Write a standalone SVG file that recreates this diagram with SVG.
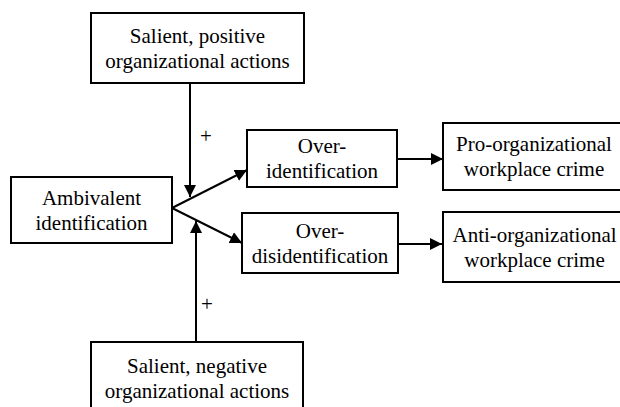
<svg xmlns="http://www.w3.org/2000/svg" width="620" height="407" viewBox="0 0 620 407" font-family="Liberation Serif" font-size="21">
<style>
.box{fill:#fff;stroke:#000;stroke-width:2}
.c{stroke:#000;stroke-width:2;fill:none}
.node{text-anchor:middle}
</style>
<defs>
<marker id="ah" markerUnits="userSpaceOnUse" markerWidth="12" markerHeight="12" refX="12" refY="6" orient="auto">
<path d="M0,0 L12,6 L0,12 z" fill="#000"/>
</marker>
</defs>
<rect width="620" height="407" fill="#fff"/>
<g id="connectors">
<path class="c" d="M190,83 L190,197" marker-end="url(#ah)"/>
<path class="c" d="M196,342 L196,221" marker-end="url(#ah)"/>
<path class="c" d="M172,208 L247,170" marker-end="url(#ah)"/>
<path class="c" d="M172,208 L242,243" marker-end="url(#ah)"/>
<path class="c" d="M397,159 L443,159" marker-end="url(#ah)"/>
<path class="c" d="M398,244 L442,244" marker-end="url(#ah)"/>
<g class="node">
<text x="206" y="143">+</text>
<text x="207" y="311">+</text>
</g>
</g>
<g id="positive" class="node">
<rect class="box" x="91" y="13" width="213" height="70"/>
<text x="197.5" y="43">Salient, positive</text>
<text x="197.5" y="68">organizational actions</text>
</g>
<g id="ambivalent" class="node">
<rect class="box" x="11" y="177" width="161" height="66"/>
<text x="91.5" y="205">Ambivalent</text>
<text x="91.5" y="230">identification</text>
</g>
<g id="overid" class="node">
<rect class="box" x="247" y="130" width="150" height="57"/>
<text x="322" y="153">Over-</text>
<text x="322" y="178">identification</text>
</g>
<g id="overdisid" class="node">
<rect class="box" x="242" y="213" width="156" height="60"/>
<text x="320" y="237.5">Over-</text>
<text x="320" y="262.5">disidentification</text>
</g>
<g id="pro" class="node">
<rect class="box" x="443" y="123" width="190" height="67"/>
<text x="534" y="151">Pro-organizational</text>
<text x="534" y="176">workplace crime</text>
</g>
<g id="anti" class="node">
<rect class="box" x="443" y="212" width="190" height="70"/>
<text x="534.5" y="241.5">Anti-organizational</text>
<text x="534.5" y="266.5">workplace crime</text>
</g>
<g id="negative" class="node">
<rect class="box" x="91" y="342" width="212" height="80"/>
<text x="197" y="373">Salient, negative</text>
<text x="197" y="398">organizational actions</text>
</g>
</svg>
